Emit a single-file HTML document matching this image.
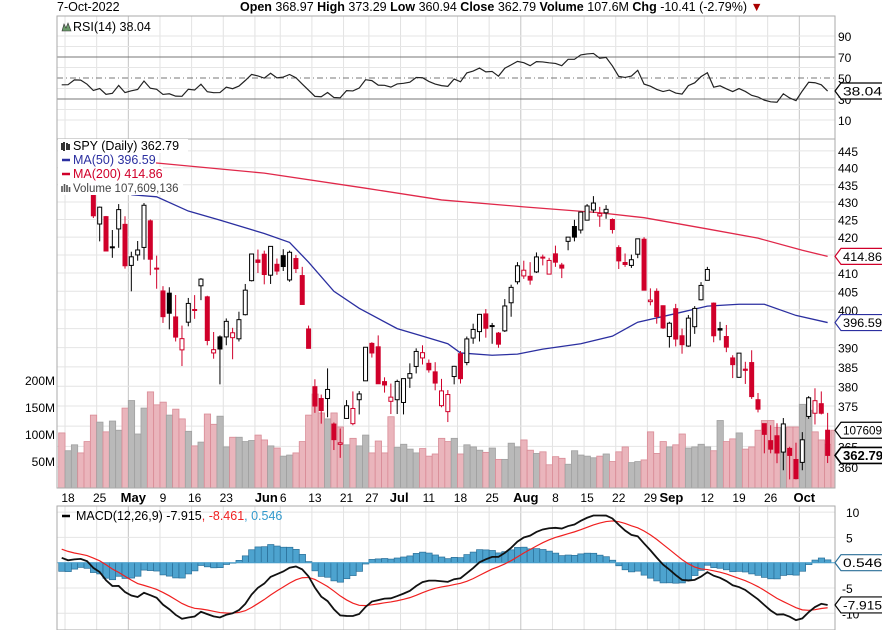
<!DOCTYPE html>
<html><head><meta charset="utf-8"><style>
body{margin:0;background:#fff;}
svg{display:block;font-family:"Liberation Sans",sans-serif;}
</style></head><body>
<svg id="c" width="882" height="630" viewBox="0 0 882 630">
<g font-size="12.5">
<text x="57" y="11" fill="#000">7-Oct-2022</text>
<text x="240" y="11" fill="#000"><tspan font-weight="bold">Open</tspan> 368.97  <tspan font-weight="bold">High</tspan> 373.29  <tspan font-weight="bold">Low</tspan> 360.94  <tspan font-weight="bold">Close</tspan> 362.79  <tspan font-weight="bold">Volume</tspan> 107.6M  <tspan font-weight="bold">Chg</tspan> -10.41 (-2.79%) <tspan fill="#a00">▼</tspan></text>
</g>
</svg>
<script>
const dates=["Apr14","Apr18","Apr19","Apr20","Apr21","Apr22","Apr25","Apr26","Apr27","Apr28","Apr29","May2","May3","May4","May5","May6","May9","May10","May11","May12","May13","May16","May17","May18","May19","May20","May23","May24","May25","May26","May27","May31","Jun1","Jun2","Jun3","Jun6","Jun7","Jun8","Jun9","Jun10","Jun13","Jun14","Jun15","Jun16","Jun17","Jun21","Jun22","Jun23","Jun24","Jun27","Jun28","Jun29","Jun30","Jul1","Jul5","Jul6","Jul7","Jul8","Jul11","Jul12","Jul13","Jul14","Jul15","Jul18","Jul19","Jul20","Jul21","Jul22","Jul25","Jul26","Jul27","Jul28","Jul29","Aug1","Aug2","Aug3","Aug4","Aug5","Aug8","Aug9","Aug10","Aug11","Aug12","Aug15","Aug16","Aug17","Aug18","Aug19","Aug22","Aug23","Aug24","Aug25","Aug26","Aug29","Aug30","Aug31","Sep1","Sep2","Sep6","Sep7","Sep8","Sep9","Sep12","Sep13","Sep14","Sep15","Sep16","Sep19","Sep20","Sep21","Sep22","Sep23","Sep26","Sep27","Sep28","Sep29","Sep30","Oct3","Oct4","Oct5","Oct6","Oct7"];
const opens=[443.6,436.8,437.9,446.9,448.5,436.9,423.7,425.8,417.2,422.3,423.6,412.1,415.0,417.1,424.6,411.1,405.1,404.5,398.1,389.4,396.7,399.98,406.5,403.5,388.6,392.8,392.8,392.6,392.3,398.7,407.9,413.6,415.2,409.4,412.4,414.8,408.1,414.0,409.3,394.9,379.9,376.9,376.9,370.5,365.5,371.9,370.6,376.6,381.4,391.1,390.2,381.2,376.2,376.6,375.9,382.1,385.1,387.3,385.9,383.7,375.1,373.6,382.5,388.4,386.1,392.5,394.2,398.9,395.8,393.8,394.4,401.9,407.6,409.2,409.1,410.3,414.4,409.7,415.3,412.2,418.8,422.99,422.0,424.8,427.7,425.99,426.9,424.98,417.05,412.9,412.1,415.2,419.4,402.2,405.0,401.1,392.9,400.3,393.1,390.4,395.5,402.7,408.0,401.8,395.0,392.9,387.3,382.3,384.4,386.1,376.6,370.6,366.4,367.6,363.6,364.5,361.8,361.1,372.4,373.2,375.6,368.97];
const highs=[444.7,439.8,445.8,447.6,450.0,438.1,428.7,426.0,422.0,429.4,425.9,415.9,418.9,429.7,425.0,414.8,406.4,406.1,404.0,395.8,403.2,403.97,408.6,403.8,394.1,393.2,397.7,395.2,399.5,407.0,415.4,416.5,416.2,417.4,414.0,416.6,416.2,415.0,411.7,395.8,381.8,377.9,384.6,370.9,369.4,376.5,378.7,378.8,390.1,391.4,393.2,382.3,380.7,381.7,381.98,385.9,389.8,390.6,386.9,386.2,381.9,379.05,385.25,389.1,392.9,396.3,398.9,400.2,396.5,394.1,402.9,406.8,413.0,413.4,413.0,415.7,415.1,414.2,417.6,412.8,420.0,424.9,427.2,429.4,431.7,428.6,429.1,425.3,417.7,415.4,415.1,419.6,419.96,405.8,405.8,401.2,396.8,401.6,395.0,398.6,401.0,407.5,411.7,401.99,396.8,395.96,388.0,388.6,386.3,389.3,378.3,370.6,370.2,370.7,372.0,364.9,365.9,368.5,377.5,379.5,378.7,373.29];
const lows=[437.7,435.6,437.7,443.5,437.1,425.4,418.8,416.1,414.2,417.0,411.2,405.0,413.4,413.7,409.4,405.7,396.5,394.8,391.6,385.2,395.6,397.6,402.6,390.6,387.1,380.5,390.6,386.96,391.6,398.5,407.7,410.0,406.9,407.0,409.5,410.55,407.6,410.0,401.4,389.75,373.3,370.6,372.2,364.1,362.2,371.8,370.2,372.9,381.4,387.4,380.6,378.4,373.0,373.0,372.9,379.6,383.3,385.6,383.5,378.99,374.7,371.0,380.5,380.7,385.4,391.0,391.6,392.6,391.0,389.95,394.1,398.15,406.9,408.4,406.8,410.0,412.1,409.6,411.7,408.6,416.3,418.8,421.0,424.7,426.9,422.9,425.2,421.0,411.1,411.7,411.4,414.1,405.25,401.2,396.3,394.9,390.0,390.3,388.4,390.2,393.6,402.5,408.1,391.4,391.9,388.8,382.1,382.2,380.6,376.8,373.4,363.3,363.3,360.9,359.2,357.0,357.0,359.2,371.8,370.4,372.9,360.94];
const closes=[437.8,437.97,445.04,444.71,438.06,426.04,428.51,416.1,417.27,427.81,412.0,414.48,416.38,429.06,413.81,411.34,398.17,399.09,392.75,392.34,401.72,400.09,408.32,391.86,389.46,389.63,396.92,393.89,397.37,405.31,415.26,412.93,409.59,417.39,410.54,411.79,415.74,411.22,401.44,389.8,375.0,373.87,379.2,366.65,365.86,375.07,374.39,378.06,390.08,388.59,380.65,380.34,377.25,381.24,381.96,383.25,388.99,388.67,384.23,380.83,378.83,377.91,385.13,381.95,392.27,394.77,398.79,395.09,395.57,390.89,401.04,406.07,411.99,410.77,408.06,414.45,414.17,413.47,412.99,411.35,419.99,419.99,427.1,428.86,429.7,426.65,427.89,422.14,413.35,412.35,413.67,419.51,405.31,402.63,398.21,395.18,396.42,392.24,390.76,397.78,400.38,406.6,410.97,393.1,394.6,390.12,385.56,388.55,384.09,377.39,374.22,367.95,364.31,363.38,370.53,362.79,357.18,366.61,377.09,376.35,373.2,362.79];
const volumes=[102,69,80,65,86,135,122,104,124,107,148,162,100,148,178,154,159,135,146,128,105,78,85,137,118,133,76,94,94,86,88,98,89,78,74,59,61,65,86,135,174,139,128,139,113,80,92,78,98,65,87,65,132,75,81,72,65,73,59,63,92,86,92,63,80,76,70,66,74,53,53,83,76,89,70,64,67,43,58,55,44,69,61,59,56,59,63,49,67,76,47,49,52,104,64,86,76,80,100,74,76,81,76,69,125,86,91,102,72,76,107,125,125,112,112,113,113,155,144,104,89,81,107];
const ma50Idx=[11,15,20,25,32,36,39,43,47,53,57,61,63,68,72,76,82,87,91,97,102,107,111,116,121];
const ma50Val=[432.1,431.5,427.4,424.8,421,418.5,413,405,400.4,395,393,391,388.6,388,388.3,389.6,391,393,396.7,399,401,401.5,401.5,398.5,396.6];
const ma200Idx=[2,15,32,48,60,73,85,92,102,110,117,121];
const ma200Val=[442.3,441.4,438.4,434,430.6,428.6,426.9,425.5,422.3,419.7,416.3,414.6];
const priceTicks=[445,440,435,430,425,420,410,405,400,390,385,380,375,365,360];
const volTicks=[200,150,100,50];
const rsiTicks=[90,70,50,30,10];
const macdTicks=[10,5,-5,-10];
const weekIdx=[1,6,11,16,21,26,31,35,40,45,49,54,58,63,68,73,78,83,88,93,98,102,107,112,117];
const monthIdx=[11,32,53,73,96,117];
const tickLabels=[[1,"18",0],[6,"25",0],[11,"May",1],[16,"9",0],[21,"16",0],[26,"23",0],[32,"Jun",1],[35,"6",0],[40,"13",0],[45,"21",0],[49,"27",0],[53,"Jul",1],[58,"11",0],[63,"18",0],[68,"25",0],[73,"Aug",1],[78,"8",0],[83,"15",0],[88,"22",0],[93,"29",0],[96,"Sep",1],[102,"12",0],[107,"19",0],[112,"26",0],[117,"Oct",1]];
const prevClose0=443.31;

const NS="http://www.w3.org/2000/svg";
const svg=document.getElementById('c');
const L=57,R=835,S=6.33,X0=61.7;
function x(i){return X0+i*S;}
function yP(p){return 202-1491*Math.log(p/430);}
function yV(v){return 488-0.54*v;}
function yR(r){return 78-(r-50)*1.05;}
function yM(m){return 562.7-m*5.06;}
function mk(tag,attrs,parent){const e=document.createElementNS(NS,tag);for(const k in attrs)e.setAttribute(k,attrs[k]);(parent||svg).appendChild(e);return e;}
function txt(s,attrs,parent){const e=mk('text',attrs,parent);e.textContent=s;return e;}

const defs=mk('defs',{});
const cp1=mk('clipPath',{id:'cm'},defs);mk('rect',{x:L,y:139,width:R-L,height:349},cp1);
const cp2=mk('clipPath',{id:'cr'},defs);mk('rect',{x:L,y:16,width:R-L,height:123},cp2);
const cp3=mk('clipPath',{id:'cd'},defs);mk('rect',{x:L,y:506,width:R-L,height:124},cp3);

function vgrid(y1,y2,g){
  weekIdx.forEach(i=>{const l=mk('line',{x1:x(i)-3,x2:x(i)-3,y1:y1,y2:y2,stroke:monthIdx.includes(i)?'#c4c4c4':'#e2e2e2','stroke-width':1},g);
  
  });
}
const rg=mk('g',{});


vgrid(16,139,rg);
[90,80,60,40,20,10].forEach(v=>mk('line',{x1:L,x2:R,y1:yR(v),y2:yR(v),stroke:'#e6e6e6'},rg));
mk('line',{x1:L,x2:R,y1:yR(70),y2:yR(70),stroke:'#777'},rg);
mk('line',{x1:L,x2:R,y1:yR(30),y2:yR(30),stroke:'#777'},rg);
mk('line',{x1:L,x2:R,y1:yR(50),y2:yR(50),stroke:'#777','stroke-dasharray':'6,3,1,3'},rg);
let ag=3.1,al=3.6,pc=prevClose0;const rsi=[];
closes.forEach(c=>{const d=c-pc;ag=(ag*13+Math.max(d,0))/14;al=(al*13+Math.max(-d,0))/14;rsi.push(100-100/(1+ag/al));pc=c;});
const rl=mk('polyline',{points:rsi.map((r,i)=>x(i)+','+yR(r)).join(' '),fill:'none',stroke:'#222','stroke-width':1.2,'clip-path':'url(#cr)'},rg);


rsiTicks.forEach(v=>{const t=txt(String(v),{x:838,y:yR(v)+5,'font-size':12,fill:'#000'},rg);
  
  });
mk('rect',{x:L,y:16,width:R-L,height:123,fill:'none',stroke:'#aaa'},rg);
mk('path',{d:'M62 31 L64 24 L66 28 L68 23 L71 31 Z',fill:'#6a9a6a',stroke:'#333','stroke-width':0.6},rg);
const rlg=txt('RSI(14) 38.04',{x:73,y:31,'font-size':12.5,fill:'#000'},rg);



const mg=mk('g',{});


vgrid(139,488,mg);
for(let p=360;p<=445;p+=5)mk('line',{x1:L,x2:R,y1:yP(p),y2:yP(p),stroke:'#e4e4e4'},mg);
const vg=mk('g',{'clip-path':'url(#cm)'},mg);
volumes.forEach((v,i)=>{const up=closes[i]>=(i?closes[i-1]:prevClose0);
  const b=mk('rect',{x:x(i)-3,y:yV(v),width:S,height:488-yV(v),fill:up?'#b9b9b9':'#eab5bc',stroke:up?'#a0a0a0':'#d98b96','stroke-width':0.8},vg);
  
  });
function line(idx,val,col,name){const l=mk('polyline',{points:idx.map((ii,k)=>x(ii)+','+yP(val[k])).join(' '),fill:'none',stroke:col,'stroke-width':1.3,'clip-path':'url(#cm)'},mg);
  
  }
line(ma200Idx,ma200Val,'#e0284a','ma200-line');
line(ma50Idx,ma50Val,'#2b2fa0','ma50-line');
const cg=mk('g',{'clip-path':'url(#cm)'},mg);
closes.forEach((c,i)=>{const o=opens[i];const up=c>=(i?closes[i-1]:prevClose0);const col=up?'#000':'#d0002a';
  const w=mk('line',{x1:x(i),x2:x(i),y1:yP(highs[i]),y2:yP(lows[i]),stroke:col,'stroke-width':1},cg);
  
  
  const top=yP(Math.max(o,c)),bot=yP(Math.min(o,c));
  const b=mk('rect',{x:x(i)-2,y:top,width:4,height:Math.max(bot-top,1),fill:c<o?col:'#fff',stroke:col,'stroke-width':1},cg);
  
  });
priceTicks.forEach(p=>{const t=txt(String(p),{x:838,y:yP(p)+5,'font-size':12,fill:'#000'},mg);
  
  });
volTicks.forEach(v=>{const t=txt(v+'M',{x:55,y:yV(v)+5,'font-size':12,fill:'#000','text-anchor':'end'},mg);
  
  });
mk('rect',{x:L,y:139,width:R-L,height:349,fill:'none',stroke:'#aaa'},mg);
const lgd=[['SPY (Daily) 362.79','#000',150,130],['MA(50) 396.59','#2b2fa0',164,98],['MA(200) 414.86','#d0002a',178,105],['Volume 107,609,136','#444',192,125]];
lgd.forEach((d,k)=>{mk('rect',{x:L+1,y:d[2]-11,width:d[3],height:14,fill:'#fff'},mg);});
lgd.forEach((d,k)=>{const t=txt(d[0],{x:73,y:d[2],'font-size':k==3?11.5:12.5,fill:d[1]},mg);
  
  });
mk('line',{x1:62,x2:70,y1:160,y2:160,stroke:'#2b2fa0','stroke-width':2.5},mg);
mk('line',{x1:62,x2:70,y1:174,y2:174,stroke:'#d0002a','stroke-width':2.5},mg);
mk('path',{d:'M62 143v7M64 142v9M67 143v7M69 144v6',stroke:'#000','stroke-width':1.6},mg);
mk('path',{d:'M62 186v6M64.5 184v8M67 185v7M69.5 187v5',stroke:'#555','stroke-width':1.6},mg);

function tag(y,label,col,bold,g,name){const w=bold?44:43;
  const p=mk('path',{d:`M${R} ${y} L${R+6} ${y-8} H${R+6+w} V${y+8} H${R+6} Z`,fill:'#fff',stroke:col,'stroke-width':bold?1.6:1.2},g);
  
  
  const t=txt(label,{x:R+8,y:y+4.5,'font-size':bold?12.5:11.5,'font-weight':bold?'bold':'normal',fill:'#000','textLength':w-4,'lengthAdjust':'spacingAndGlyphs'},g);}
tag(yP(ma50Val[ma50Val.length-1]),'396.59','#2b2fa0',false,mg,'ma50-value-tag');
tag(yP(ma200Val[ma200Val.length-1]),'414.86','#d0002a',false,mg,'ma200-value-tag');
tag(yV(volumes[volumes.length-1]),'107609','#000',false,mg,'volume-value-tag');
tag(yP(closes[closes.length-1]),'362.79','#000',true,mg,'close-value-tag');
tag(yR(rsi[rsi.length-1]),'38.04','#000',false,rg,'rsi-value-tag');

const dg=mk('g',{});


tickLabels.forEach(d=>{const t=txt(d[1],{x:x(d[0])+(d[2]?2:0),y:502,'font-size':d[2]?13:12,'font-weight':d[2]?'bold':'normal','text-anchor':'middle',fill:'#000'},dg);
  
  });

const kg=mk('g',{});


vgrid(506,630,kg);
[10,5,-5,-10].forEach(v=>mk('line',{x1:L,x2:R,y1:yM(v),y2:yM(v),stroke:'#e4e4e4'},kg));
let e12=444.2,e26=442.6,sg=3.1;const macd=[],sig=[];
closes.forEach(c=>{e12+=(c-e12)*2/13;e26+=(c-e26)*2/27;const m=e12-e26;sg+=(m-sg)*0.2;macd.push(m);sig.push(sg);});
const hg=mk('g',{'clip-path':'url(#cd)'},kg);
macd.forEach((m,i)=>{const h=m-sig[i];const y0=yM(0),y1=yM(h);
  const b=mk('rect',{x:x(i)-3,y:Math.min(y0,y1),width:S,height:Math.max(Math.abs(y1-y0),0.5),fill:'#4da3cf',stroke:'#2a6f98','stroke-width':0.7},hg);
  
  });
mk('line',{x1:L,x2:R,y1:yM(0),y2:yM(0),stroke:'#4da3cf'},kg);
const sl=mk('polyline',{points:sig.map((v,i)=>x(i)+','+yM(v)).join(' '),fill:'none',stroke:'#f02020','stroke-width':1.2,'clip-path':'url(#cd)'},kg);


const ml=mk('polyline',{points:macd.map((v,i)=>x(i)+','+yM(v)).join(' '),fill:'none',stroke:'#111','stroke-width':1.8,'clip-path':'url(#cd)'},kg);


macdTicks.forEach(v=>{const t=txt(String(v),{x:v<0?842:846,y:yM(v)+5,'font-size':12,fill:'#000'},kg);
  
  });
mk('rect',{x:L,y:506,width:R-L,height:124,fill:'none',stroke:'#aaa'},kg);
mk('line',{x1:62,x2:70,y1:516,y2:516,stroke:'#000','stroke-width':2.5},kg);
const mlg=txt('',{x:76,y:520,'font-size':12.5},kg);


[['MACD(12,26,9) -7.915','#000'],[', -8.461','#f02020'],[', 0.546','#3399cc']].forEach(p=>{const s=document.createElementNS(NS,'tspan');s.setAttribute('fill',p[1]);s.textContent=p[0];mlg.appendChild(s);});
tag(yM(0),'0.546','#2a6f98',false,kg,'macd-hist-tag');
tag(yM(macd[macd.length-1]),'-7.915','#000',false,kg,'macd-value-tag');
</script>
</body></html>
